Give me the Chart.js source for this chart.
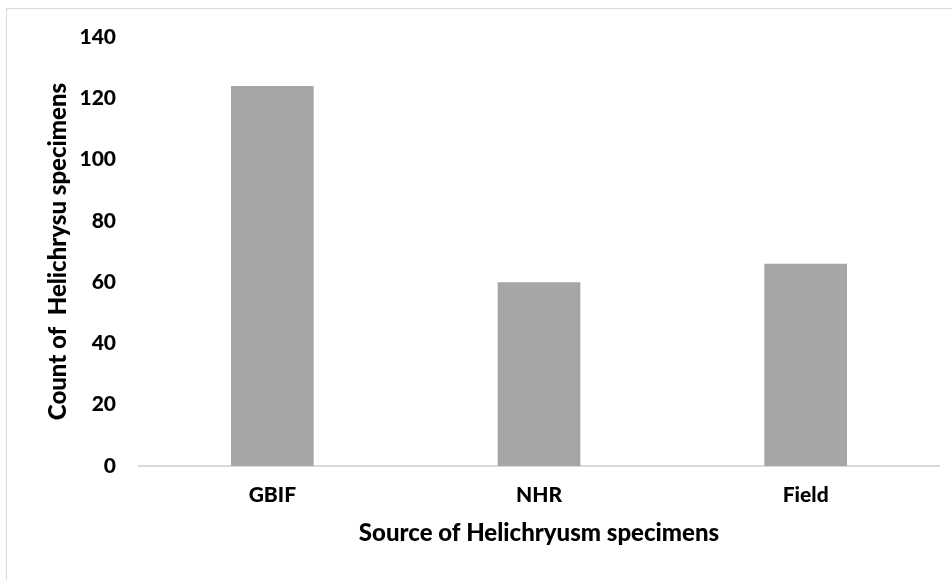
<!DOCTYPE html>
<html>
<head>
<meta charset="utf-8">
<script src="https://cdn.jsdelivr.net/npm/chart.js@4"></script>
<style>
  html, body { margin: 0; padding: 0; background: #fff; }
  #wrap { position: relative; width: 952px; height: 580px; overflow: hidden; }
  #frame { position: absolute; left: 6px; top: 8px; width: 960px; height: 600px; border: 1px solid #d9d9d9; box-sizing: border-box; }
  canvas { position: absolute; left: 0; top: 0; }
</style>
</head>
<body>
<div id="wrap">
  <div id="frame"></div>
  <canvas id="chart" width="952" height="580"></canvas>
</div>
<script>
const categories = ['GBIF', 'NHR', 'Field'];
const counts = [124, 60, 66];
const yTicks = [0, 20, 40, 60, 80, 100, 120, 140];

const fontFamily = 'Lato, "Noto Sans", sans-serif';

new Chart(document.getElementById('chart'), {
  type: 'bar',
  data: {
    labels: categories,
    datasets: [{
      data: counts,
      backgroundColor: '#a6a6a6',
      borderWidth: 0,
      barPercentage: 0.31,
      categoryPercentage: 1
    }]
  },
  options: {
    responsive: false,
    animation: false,
    layout: { padding: { top: 37, right: 13, bottom: 0, left: 0 } },
    plugins: {
      legend: { display: false },
      tooltip: { enabled: false }
    },
    scales: {
      x: {
        grid: { display: false },
        border: { display: true, color: '#d9d9d9', width: 2 },
        ticks: {
          color: '#000',
          padding: 9,
          font: { family: fontFamily, size: 21, weight: 900 }
        },
        title: {
          display: true,
          text: 'Source of Helichryusm specimens',
          color: '#000',
          padding: { top: 0, bottom: 32 },
          font: { family: fontFamily, size: 24, weight: 900 }
        },
        afterFit: (scale) => { scale.height = 114; }
      },
      y: {
        min: 0,
        max: 140,
        afterBuildTicks: (scale) => { scale.ticks = yTicks.map(v => ({ value: v })); },
        grid: { display: false },
        border: { display: false },
        ticks: {
          color: '#000',
          padding: 15,
          font: { family: fontFamily, size: 21, weight: 900 }
        },
        title: {
          display: true,
          text: 'Count of  Helichrysu specimens',
          color: '#000',
          padding: { top: 44, bottom: 0 },
          font: { family: fontFamily, size: 24, weight: 900 }
        },
        afterFit: (scale) => { scale.width = 139; }
      }
    }
  }
});
</script>
</body>
</html>
